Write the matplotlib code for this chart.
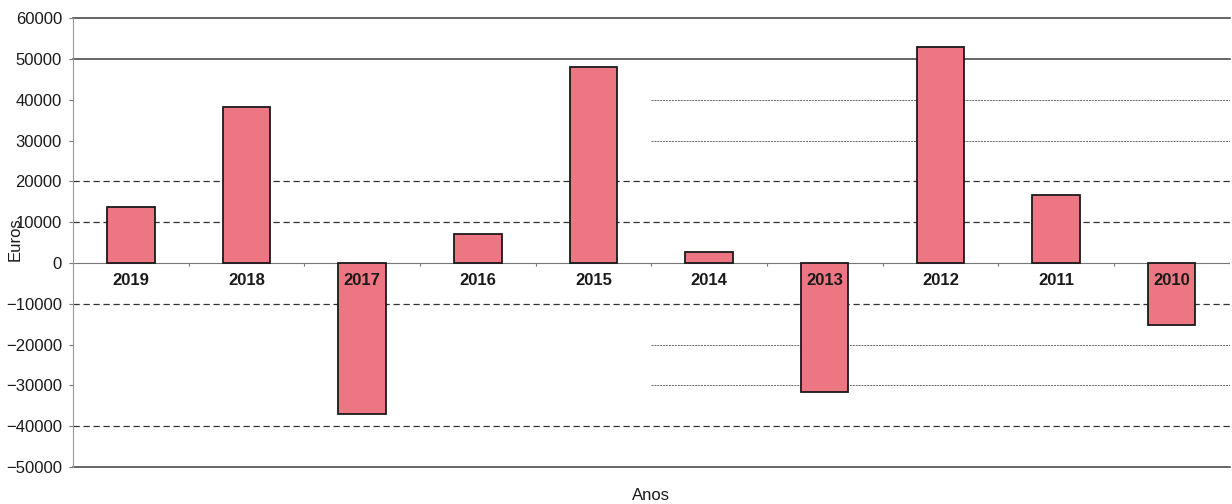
"""
Resultado anual em euros, 2019 a 2010.
"""

import matplotlib
matplotlib.use("Agg")
import matplotlib.pyplot as plt
import numpy as np

anos = ["2019", "2018", "2017", "2016", "2015", "2014", "2013", "2012", "2011", "2010"]
valores = [13800, 38200, -37000, 7200, 48000, 2700, -31500, 52900, 16700, -15200]

grelha_solida = [60000, 50000, -50000]
grelha_tracejada = [20000, 10000, -10000, -40000]
grelha_parcial = [40000, 30000, -20000, -30000]

plt.rcParams["font.family"] = ["Liberation Sans", "DejaVu Sans"]

fig = plt.figure(figsize=(12.32, 5.04), dpi=100)
ax = fig.add_axes([0.0593, 0.0734, 0.9387, 0.8906])

x = np.arange(len(anos))
n = len(anos)

# linhas de grelha (estilos diferentes conforme o nível)
for y in grelha_solida:
    ax.axhline(y, color="#3f3a3c", lw=1.1, zorder=1, clip_on=False)
for y in grelha_tracejada:
    ax.axhline(y, color="#333333", lw=0.9, ls=(0, (5, 3)), zorder=1)
for y in grelha_parcial:
    ax.hlines(y, 4.5, n - 0.5, color="#666666", lw=0.7, ls=(0, (2, 1)), zorder=1)

# eixo do zero com pequenas marcas entre categorias
ax.axhline(0, color="#777777", lw=0.8, zorder=2)
ax.vlines(np.arange(n) + 0.5, -700, 0, color="#777777", lw=0.8, zorder=2)

ax.bar(x, valores, width=0.41, color="#ec7682", edgecolor="#1a1a1a",
       linewidth=1.3, zorder=3)

for i, ano in enumerate(anos):
    ax.annotate(ano, (i, 0), xytext=(0, -7.5), textcoords="offset points",
                ha="center", va="top", fontsize=12, fontweight="bold",
                color="#1a1a1a", zorder=4)

ax.set_xlim(-0.5, n - 0.5)
ax.set_ylim(-50000, 60000)
ax.set_yticks(np.arange(-50000, 60001, 10000))
ax.set_xticks([])
ax.tick_params(axis="y", labelsize=12, length=3, color="#777777",
               labelcolor="#1a1a1a", pad=5)

for lado in ["top", "right", "bottom"]:
    ax.spines[lado].set_visible(False)
ax.spines["left"].set_color("#999999")
ax.spines["left"].set_linewidth(0.8)

fig.text(0.0125, 0.525, "Euros", rotation=90, ha="center", va="center",
         fontsize=12, color="#1a1a1a")
fig.text(0.528, 0.002, "Anos", ha="center", va="bottom",
         fontsize=12, color="#1a1a1a")

fig.savefig("out.png", dpi=100, facecolor="white")
